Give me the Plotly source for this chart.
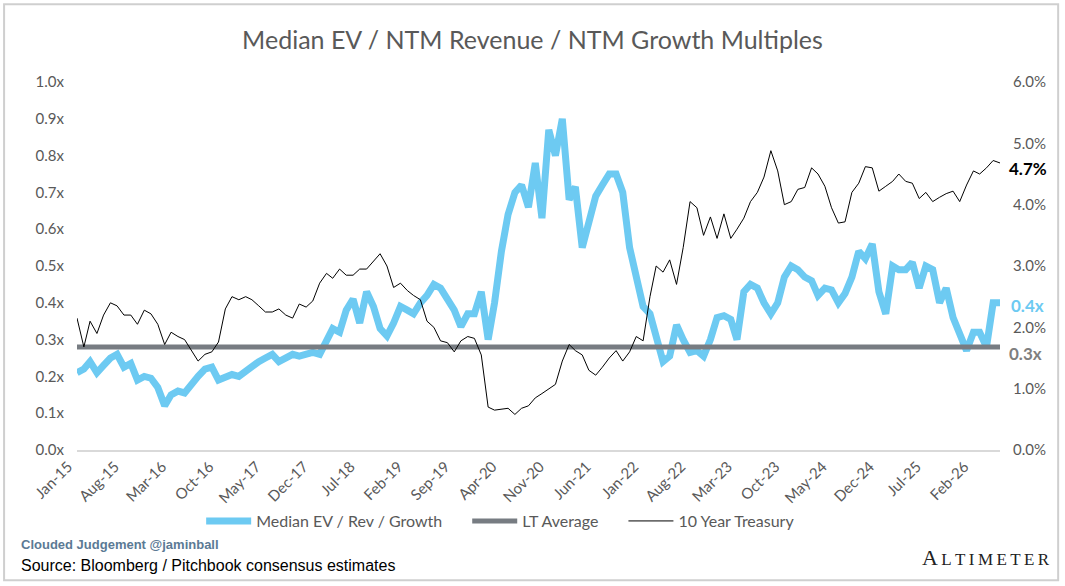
import pandas as pd
import plotly.graph_objects as go

# Monthly readings, Jan-15 onwards
ev_rev_growth = [
    0.21, 0.22, 0.24, 0.21, 0.23, 0.25, 0.26, 0.225, 0.235, 0.19,
    0.20, 0.195, 0.17, 0.12, 0.15, 0.16, 0.155, 0.18, 0.20, 0.22,
    0.225, 0.19, 0.20, 0.205, 0.20, 0.215, 0.23, 0.24, 0.25, 0.26,
    0.24, 0.25, 0.26, 0.255, 0.26, 0.265, 0.26, 0.30, 0.33, 0.32,
    0.38, 0.41, 0.345, 0.43, 0.39, 0.33, 0.31, 0.345, 0.39, 0.38,
    0.37, 0.40, 0.42, 0.45, 0.44, 0.41, 0.38, 0.335, 0.37, 0.37,
    0.43, 0.30, 0.40, 0.54, 0.64, 0.70, 0.72, 0.66, 0.78, 0.63,
    0.87, 0.80, 0.90, 0.68, 0.715, 0.55, 0.62, 0.69, 0.72, 0.75,
    0.75, 0.70, 0.55, 0.46, 0.39, 0.37, 0.31, 0.24, 0.255, 0.34,
    0.30, 0.265, 0.27, 0.255, 0.30, 0.36, 0.365, 0.355, 0.30, 0.43,
    0.45, 0.44, 0.40, 0.37, 0.40, 0.47, 0.50, 0.49, 0.47, 0.46,
    0.42, 0.44, 0.435, 0.40, 0.425, 0.47, 0.54, 0.52, 0.56, 0.43,
    0.37, 0.50, 0.49, 0.49, 0.51, 0.44, 0.50, 0.49, 0.40, 0.44,
    0.36, 0.32, 0.27, 0.32, 0.32, 0.28, 0.40, 0.40,
]

treasury_10y = [
    2.15, 1.68, 2.10, 1.90, 2.20, 2.40, 2.35, 2.20, 2.20, 2.05,
    2.28, 2.22, 2.05, 1.72, 1.92, 1.85, 1.80, 1.62, 1.45, 1.56,
    1.60, 1.76, 2.30, 2.50, 2.45, 2.50, 2.45, 2.35, 2.25, 2.25,
    2.30, 2.20, 2.15, 2.38, 2.33, 2.43, 2.72, 2.88, 2.80, 2.95,
    2.85, 2.85, 2.95, 2.95, 3.08, 3.20, 3.00, 2.65, 2.72, 2.60,
    2.52, 2.45, 2.10, 2.00, 1.78, 1.75, 1.60, 1.78, 1.85, 1.82,
    1.55, 0.70, 0.65, 0.66, 0.68, 0.58, 0.68, 0.72, 0.85, 0.92,
    1.00, 1.07, 1.45, 1.72, 1.62, 1.55, 1.30, 1.22, 1.35, 1.50,
    1.62, 1.45, 1.60, 1.85, 1.78, 2.50, 3.00, 2.90, 3.10, 2.70,
    3.30, 4.05, 3.95, 3.50, 3.80, 3.45, 3.85, 3.45, 3.60, 3.78,
    4.05, 4.20, 4.45, 4.88, 4.55, 4.00, 4.05, 4.25, 4.28, 4.60,
    4.50, 4.30, 3.95, 3.70, 3.72, 4.20, 4.35, 4.62, 4.60, 4.22,
    4.30, 4.38, 4.50, 4.38, 4.35, 4.10, 4.20, 4.05, 4.12, 4.18,
    4.22, 4.05, 4.32, 4.55, 4.50, 4.60, 4.72, 4.68,
]

lt_average = 0.28
dates = pd.date_range("2015-01-01", periods=len(ev_rev_growth), freq="MS")

blue = "#6DCAF2"
grey = "#777C82"
text_grey = "#595959"
gap = "\u2003\u2002"  # extra room between legend entries

fig = go.Figure()
fig.add_trace(go.Scatter(
    x=dates, y=ev_rev_growth, name="Median EV / Rev / Growth" + gap,
    mode="lines", line=dict(color=blue, width=7),
))
fig.add_trace(go.Scatter(
    x=dates, y=[lt_average] * len(dates), name="LT Average" + gap,
    mode="lines", line=dict(color=grey, width=5),
))
fig.add_trace(go.Scatter(
    x=dates, y=[v / 100 for v in treasury_10y], name="10 Year Treasury",
    mode="lines", line=dict(color="black", width=1), yaxis="y2",
))

# end-of-series labels
fig.add_annotation(x=1.008, xref="paper", y=treasury_10y[-1] / 100, yref="y2",
                   text="<b>4.7%</b>", showarrow=False, xanchor="left", yshift=-6,
                   font=dict(size=17, color="black"))
fig.add_annotation(x=1.010, xref="paper", y=ev_rev_growth[-1], yref="y",
                   text="<b>0.4x</b>", showarrow=False, xanchor="left", yshift=-3,
                   font=dict(size=17, color=blue))
fig.add_annotation(x=1.008, xref="paper", y=lt_average, yref="y",
                   text="<b>0.3x</b>", showarrow=False, xanchor="left", yshift=-7,
                   font=dict(size=17, color="#7F7F7F"))

# footer text
fig.add_annotation(x=-0.063, xref="paper", y=-0.258, yref="paper",
                   text="<b>Clouded Judgement @jaminball</b>", showarrow=False,
                   xanchor="left", yanchor="middle",
                   font=dict(family="Liberation Sans", size=13, color="#5B7A95"))
fig.add_annotation(x=-0.063, xref="paper", y=-0.313, yref="paper",
                   text="Source: Bloomberg / Pitchbook consensus estimates", showarrow=False,
                   xanchor="left", yanchor="middle",
                   font=dict(family="Liberation Sans", size=16, color="black"))
fig.add_annotation(x=1.056, xref="paper", y=-0.292, yref="paper",
                   text="A<span style='font-size:17px'>\u2009L\u2009T\u2009I\u2009M\u2009E\u2009T\u2009E\u2009R</span>",
                   showarrow=False, xanchor="right", yanchor="middle",
                   font=dict(family="Liberation Serif", size=22, color="#222222"))

# chart border
fig.add_shape(type="rect", xref="paper", yref="paper", layer="above",
              x0=-0.079, x1=1.063, y0=-0.354, y1=1.211,
              line=dict(color="#CFCFCF", width=2))

fig.update_layout(
    width=1065, height=586,
    margin=dict(l=77, r=65, t=82, b=136),
    paper_bgcolor="white", plot_bgcolor="white",
    font=dict(family="Lato, Noto Sans, sans-serif", color=text_grey),
    title=dict(text="Median EV / NTM Revenue / NTM Growth Multiples",
               x=0.5, xref="container", y=0.932, yref="container",
               xanchor="center", yanchor="middle",
               font=dict(size=25, color=text_grey)),
    xaxis=dict(
        type="date", range=[dates[0], dates[-1]],
        tick0="2015-01-01", dtick="M7", tickformat="%b-%y",
        tickangle=-45, tickfont=dict(size=15, color=text_grey),
        ticklabelshift=-9,
        showgrid=False, zeroline=False,
        showline=True, linecolor="#D9D9D9", linewidth=2, ticks="",
    ),
    yaxis=dict(
        range=[0, 1.0], dtick=0.1, tickformat=".1f", ticksuffix="x",
        tickfont=dict(size=15, color=text_grey), showgrid=False,
        zeroline=False, ticklabelstandoff=12,
    ),
    yaxis2=dict(
        range=[0, 0.06], dtick=0.01, tickformat=".1%", overlaying="y",
        side="right", tickfont=dict(size=15, color=text_grey),
        showgrid=False, zeroline=False, ticklabelstandoff=12,
    ),
    legend=dict(
        orientation="h", x=0.459, xanchor="center", y=-0.193, yanchor="middle",
        font=dict(size=16, color=text_grey), bgcolor="rgba(0,0,0,0)",
        itemwidth=45,
    ),
    hovermode=False,
)

fig.write_html("out.html", config={"displayModeBar": False},
               post_script="document.body.style.margin='0px';")
